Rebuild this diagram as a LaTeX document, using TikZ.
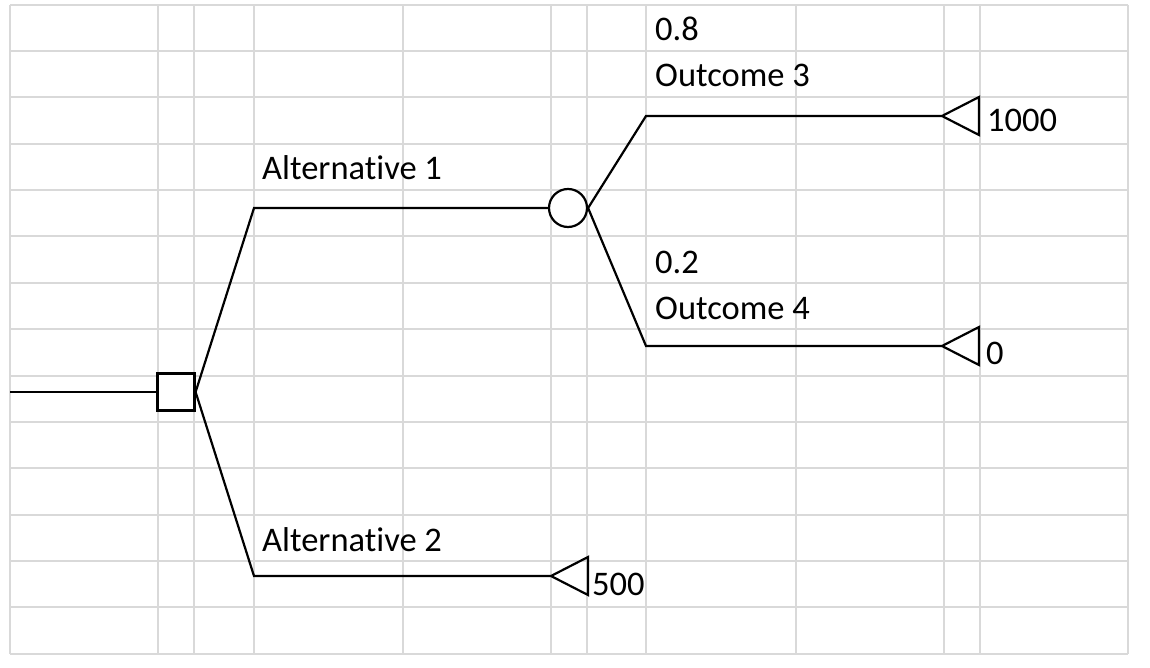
\documentclass[tikz,border=0pt]{standalone}
\usepackage{fontspec}
\setmainfont{Carlito}[Ligatures={NoCommon}]
\definecolor{gridgray}{RGB}{217,217,217}
\begin{document}
\begin{tikzpicture}[x=1pt,y=-1pt,
  grid/.style={draw=gridgray,line width=2pt},
  tree/.style={line width=2.2pt,draw=black,line join=miter},
  lbl/.style={anchor=base west,inner sep=0pt,font=\fontsize{34.5}{41}\selectfont}]
\useasboundingbox (0,0) rectangle (1150,668);
\fill[white] (0,0) rectangle (1150,668);
\foreach \x in {10,158,194,254,403,551,587,646,796,944,980,1128}
  \draw[grid] (\x,5) -- (\x,654);
\foreach \y in {5,51,97,144,190,236,283,329,376,422,468,515,561,607,654}
  \draw[grid] (10,\y) -- (1128,\y);
% decision node
\node[draw,line width=2.2pt,minimum size=37pt,inner sep=0pt,fill=white] (dec) at (176,392) {};
\coordinate (start) at (10,392);
\draw[tree] (start) -- (dec.west);
% chance node
\node[circle,draw,line width=2.2pt,minimum size=38pt,inner sep=0pt,fill=white] (ch) at (568,208) {};
\coordinate (a1) at (254,208);
\coordinate (a2) at (254,576);
\coordinate (t2) at (551,576);
\coordinate (o3) at (646,116);
\coordinate (t3) at (942,116);
\coordinate (o4) at (646,346);
\coordinate (t4) at (942,346);
\draw[tree] (dec.east) -- (a1) -- (ch.west);
\draw[tree] (dec.east) -- (a2) -- (t2);
\draw[tree] (ch.east) -- (o3) -- (t3);
\draw[tree] (ch.east) -- (o4) -- (t4);
% terminal triangles
\foreach \t in {t2,t3,t4}
  \draw[tree] (\t) -- ++(37,-19) -- ++(0,38) -- cycle;
% labels
\node[lbl] (l08) at (655,41) {0.8};
\node[lbl] (lo3) at (655,87) {Outcome 3};
\node[lbl] (la1) at (262,180) {Alternative 1};
\node[lbl] (l02) at (655,273) {0.2};
\node[lbl] (lo4) at (655,319) {Outcome 4};
\node[lbl] (la2) at (262,551) {Alternative 2};
\node[lbl] (v1000) at (987,132) {1000};
\node[lbl] (v0) at (986,364) {0};
\node[lbl] (v500) at (592,595) {500};
\end{tikzpicture}
\end{document}
